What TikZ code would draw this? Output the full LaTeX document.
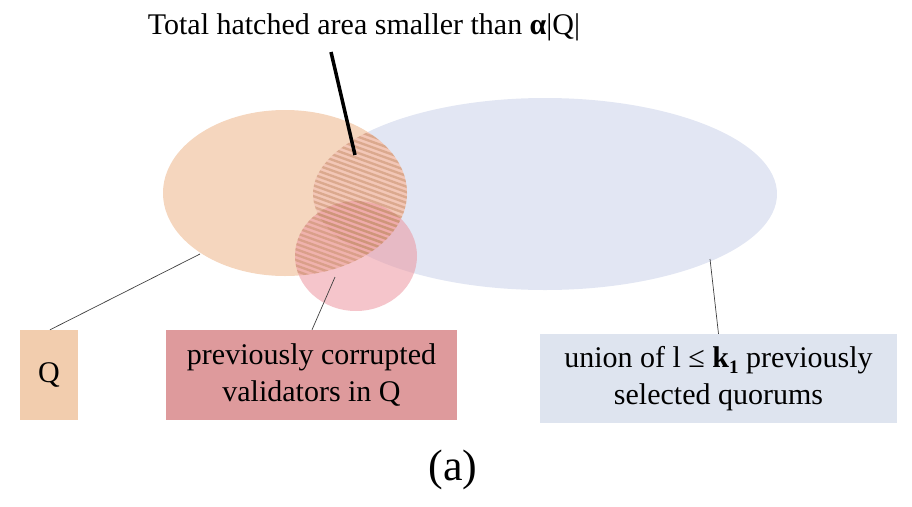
\documentclass[tikz,border=0pt]{standalone}
\usepackage{fontspec}
\setmainfont{Liberation Serif}
\definecolor{qfill}{RGB}{245,214,190}
\definecolor{bfill}{RGB}{226,230,243}
\definecolor{rfill}{RGB}{236,150,160}
\definecolor{qbox}{RGB}{242,205,174}
\definecolor{rbox}{RGB}{222,154,156}
\definecolor{bbox}{RGB}{222,228,239}
\definecolor{hatchc}{RGB}{200,145,110}
\begin{document}
\begin{tikzpicture}[x=1pt,y=-1pt,
  lbl/.style={inner sep=0pt, align=center, font=\fontsize{30}{37}\selectfont},
  boxq/.style={lbl, fill=qbox, minimum width=58, minimum height=90},
  boxr/.style={lbl, fill=rbox, minimum width=291, minimum height=90},
  boxb/.style={lbl, fill=bbox, minimum width=357, minimum height=89},
  leader/.style={draw=black!75, line width=0.7pt}]
\useasboundingbox (0,0) rectangle (912,506);
% ellipses
\fill[bfill] (545,194) ellipse [x radius=232, y radius=96];
\fill[qfill] (285,193) ellipse [x radius=122, y radius=83];
\fill[rfill, opacity=0.55] (356,256) ellipse [x radius=61, y radius=55];
% hatched: Q cap blue
\begin{scope}
  \clip (285,193) ellipse [x radius=122, y radius=83];
  \clip (545,194) ellipse [x radius=232, y radius=96];
  \fill[rfill, opacity=0.22] (250,90) rectangle (430,320);
  \foreach \i in {0,...,50} {
    \draw[hatchc, opacity=0.55, line width=2.4pt] (270,{40+\i*5.4}) -- ++(160,58);
  }
\end{scope}
% hatched: Q cap red
\begin{scope}
  \clip (285,193) ellipse [x radius=122, y radius=83];
  \clip (356,256) ellipse [x radius=61, y radius=55];
  \foreach \i in {0,...,50} {
    \draw[hatchc, opacity=0.55, line width=2.4pt] (270,{40+\i*5.4}) -- ++(160,58);
  }
\end{scope}
% title and pointer
\node[lbl] (title) at (364,27) {Total hatched area smaller than \textbf{α}|Q|};
\coordinate (ptop) at (331,52);
\coordinate (pend) at (355,155);
\draw[black, line width=3.5pt] (ptop) -- (pend);
% boxes
\node[boxq] (q) at (49,375) {Q};
\node[boxr] (r) at (311.5,375) {previously corrupted\\validators in Q};
\node[boxb] (b) at (718.5,378.5) {union of l ≤ \textbf{k\raisebox{-0.22em}{\fontsize{19}{19}\selectfont 1}} previously\\selected quorums};
% leader ends
\coordinate (qend) at (200,254);
\coordinate (rend) at (335,277);
\coordinate (bend) at (710,259);
\draw[leader] ([xshift=1pt]q.north) -- (qend);
\draw[leader] ([xshift=0.5pt]r.north) -- (rend);
\draw[leader] (b.north) -- (bend);
\node[lbl, font=\fontsize{44}{48}\selectfont] (cap) at (453,470) {(a)};
\end{tikzpicture}
\end{document}
